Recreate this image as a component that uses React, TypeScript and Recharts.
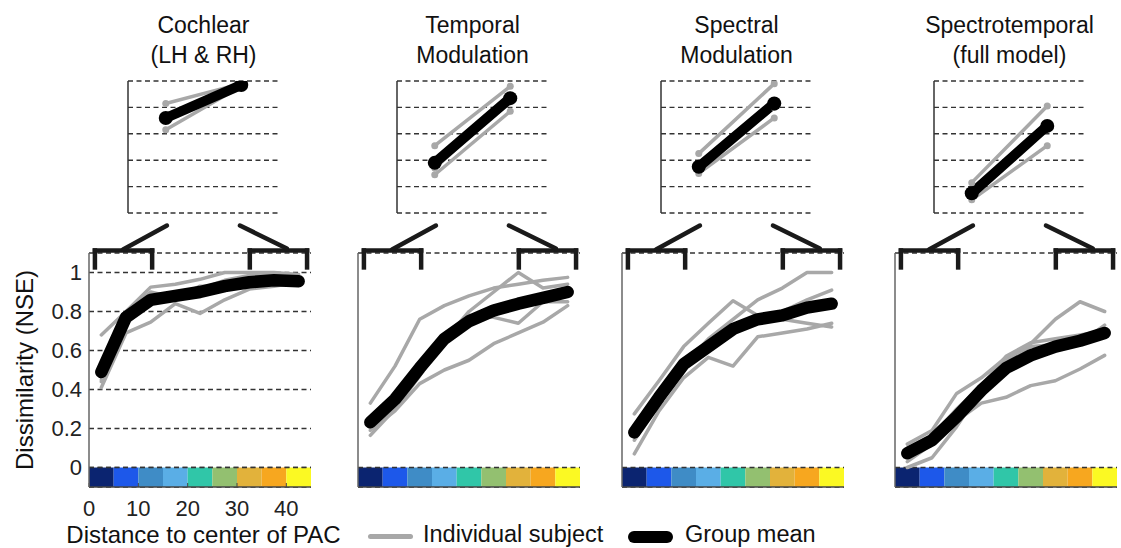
import React from 'react';
import { LineChart, Line, XAxis, YAxis, CartesianGrid, ReferenceArea, ReferenceLine } from 'recharts';

// ---------- data ----------
const BIN_CENTERS = [2.5, 7.5, 12.5, 17.5, 22.5, 27.5, 32.5, 37.5, 42.5];
const BIN_EDGES = [0, 5, 10, 15, 20, 25, 30, 35, 40, 45];
const X_TICKS = [0, 10, 20, 30, 40];
const Y_TICKS = [0, 0.2, 0.4, 0.6, 0.8, 1];
const TOP_Y_TICKS = [0, 0.2, 0.4, 0.6, 0.8, 1];
const TOP_POSITIONS = [1, 3];

const TITLES = [
  ['Cochlear', '(LH & RH)'],
  ['Temporal', 'Modulation'],
  ['Spectral', 'Modulation'],
  ['Spectrotemporal', '(full model)'],
];
const X_LABEL = 'Distance to center of PAC';
const Y_LABEL = 'Dissimilarity (NSE)';
const LEGEND_SUBJECT = 'Individual subject';
const LEGEND_MEAN = 'Group mean';

// Cochlear
const COCHLEAR_MEAN = [0.49, 0.77, 0.86, 0.88, 0.9, 0.93, 0.95, 0.96, 0.955];
const COCHLEAR_S1 = [0.68, 0.8, 0.925, 0.94, 0.965, 1.0, 1.0, 1.0, 0.99];
const COCHLEAR_S2 = [0.41, 0.69, 0.745, 0.84, 0.79, 0.86, 0.915, 0.93, 0.95];
const COCHLEAR_S3 = [0.44, 0.79, 0.88, 0.895, 0.915, 0.96, 0.985, 0.99, 0.97];
const COCHLEAR_S4 = [0.45, 0.8, 0.9, 0.87, 0.93, 0.93, 0.95, 0.95, 0.94];
const COCHLEAR_TOP_MEAN = [0.72, 0.97];
const COCHLEAR_TOP_S = [[0.83, 0.98], [0.63, 0.96], [0.7, 0.97], [0.72, 0.96]];

// Temporal modulation
const TEMPORAL_MEAN = [0.232, 0.35, 0.51, 0.66, 0.75, 0.805, 0.84, 0.87, 0.9];
const TEMPORAL_S1 = [0.33, 0.52, 0.76, 0.83, 0.88, 0.92, 0.94, 0.96, 0.975];
const TEMPORAL_S2 = [0.165, 0.3, 0.47, 0.65, 0.8, 0.9, 1.0, 0.92, 0.94];
const TEMPORAL_S3 = [0.2, 0.33, 0.5, 0.68, 0.78, 0.77, 0.74, 0.85, 0.85];
const TEMPORAL_S4 = [0.19, 0.29, 0.43, 0.5, 0.55, 0.635, 0.69, 0.745, 0.83];
const TEMPORAL_TOP_MEAN = [0.38, 0.87];
const TEMPORAL_TOP_S = [[0.51, 0.96], [0.29, 0.77], [0.36, 0.88], [0.34, 0.86]];

// Spectral modulation
const SPECTRAL_MEAN = [0.18, 0.36, 0.53, 0.62, 0.71, 0.76, 0.78, 0.82, 0.84];
const SPECTRAL_S1 = [0.275, 0.445, 0.62, 0.74, 0.855, 0.78, 0.76, 0.74, 0.72];
const SPECTRAL_S2 = [0.14, 0.33, 0.52, 0.66, 0.76, 0.86, 0.92, 1.0, 1.0];
const SPECTRAL_S3 = [0.07, 0.29, 0.46, 0.565, 0.52, 0.67, 0.69, 0.71, 0.74];
const SPECTRAL_S4 = [0.2, 0.37, 0.54, 0.63, 0.73, 0.77, 0.8, 0.86, 0.91];
const SPECTRAL_TOP_MEAN = [0.35, 0.83];
const SPECTRAL_TOP_S = [[0.45, 0.98], [0.3, 0.72], [0.33, 0.8], [0.34, 0.84]];

// Spectrotemporal (full model)
const SPECTROTEMPORAL_MEAN = [0.073, 0.14, 0.26, 0.395, 0.51, 0.575, 0.62, 0.65, 0.69];
const SPECTROTEMPORAL_S1 = [0.12, 0.19, 0.38, 0.46, 0.565, 0.635, 0.76, 0.85, 0.8];
const SPECTROTEMPORAL_S2 = [0.03, 0.12, 0.24, 0.33, 0.36, 0.42, 0.445, 0.505, 0.575];
const SPECTROTEMPORAL_S3 = [0.0, 0.05, 0.21, 0.4, 0.55, 0.62, 0.63, 0.64, 0.73];
const SPECTROTEMPORAL_S4 = [0.1, 0.16, 0.3, 0.42, 0.57, 0.64, 0.66, 0.68, 0.7];
const SPECTROTEMPORAL_TOP_MEAN = [0.15, 0.66];
const SPECTROTEMPORAL_TOP_S = [[0.23, 0.81], [0.1, 0.51], [0.14, 0.64], [0.15, 0.66]];

const PANELS = [
  { mean: COCHLEAR_MEAN, subjects: [COCHLEAR_S1, COCHLEAR_S2, COCHLEAR_S3, COCHLEAR_S4], topMean: COCHLEAR_TOP_MEAN, topSubjects: COCHLEAR_TOP_S },
  { mean: TEMPORAL_MEAN, subjects: [TEMPORAL_S1, TEMPORAL_S2, TEMPORAL_S3, TEMPORAL_S4], topMean: TEMPORAL_TOP_MEAN, topSubjects: TEMPORAL_TOP_S },
  { mean: SPECTRAL_MEAN, subjects: [SPECTRAL_S1, SPECTRAL_S2, SPECTRAL_S3, SPECTRAL_S4], topMean: SPECTRAL_TOP_MEAN, topSubjects: SPECTRAL_TOP_S },
  { mean: SPECTROTEMPORAL_MEAN, subjects: [SPECTROTEMPORAL_S1, SPECTROTEMPORAL_S2, SPECTROTEMPORAL_S3, SPECTROTEMPORAL_S4], topMean: SPECTROTEMPORAL_TOP_MEAN, topSubjects: SPECTROTEMPORAL_TOP_S },
];

// ---------- styles ----------
const COLORBAR = ['#0b2470', '#1d58ea', '#3f8cc6', '#5aaee6', '#30c6a8', '#93c070', '#e2b23b', '#f7a71f', '#fbf923'];
const FONT = '"Liberation Sans", Arial, Helvetica, sans-serif';
const GRAY = '#a8a8a8';
const GRID = '#333';
const COLUMN_X = [89, 358, 622, 895];
const PLOT_W = 222;

const SUBJECT_KEYS = ['s1', 's2', 's3', 's4'];

function bracketLines(x1: number, x2: number, keyPrefix: string) {
  const yTop = 1.113;
  const yBot = 1.026;
  const common = { stroke: '#1a1a1a', strokeWidth: 4.5, ifOverflow: 'visible' as const, strokeLinecap: 'square' as const };
  return [
    <ReferenceLine key={keyPrefix + 'a'} segment={[{ x: x1, y: yBot }, { x: x1, y: yTop }]} {...common} />,
    <ReferenceLine key={keyPrefix + 'b'} segment={[{ x: x1, y: yTop }, { x: x2, y: yTop }]} {...common} />,
    <ReferenceLine key={keyPrefix + 'c'} segment={[{ x: x2, y: yTop }, { x: x2, y: yBot }]} {...common} />,
  ];
}

function BottomPanel({ index }: { index: number }) {
  const panel = PANELS[index];
  const first = index === 0;
  const W = first ? 81 : 10;
  const X0 = COLUMN_X[index];
  const data = BIN_CENTERS.map((x, i) => ({
    x,
    s1: panel.subjects[0][i],
    s2: panel.subjects[1][i],
    s3: panel.subjects[2][i],
    s4: panel.subjects[3][i],
    mean: panel.mean[i],
  }));
  const diag = { stroke: '#1a1a1a', strokeWidth: 4.5, ifOverflow: 'visible' as const, strokeLinecap: 'round' as const };
  return (
    <div style={{ position: 'absolute', left: X0 - W, top: 212 }}>
      <LineChart width={W + PLOT_W + 6} height={336} data={data} margin={{ top: 41, right: 6, bottom: 0, left: 0 }}>
        <CartesianGrid vertical={false} stroke={GRID} strokeDasharray="5 3.5" strokeWidth={1.4} />
        {COLORBAR.map((c, i) => (
          <ReferenceArea key={'cb' + i} x1={BIN_EDGES[i]} x2={BIN_EDGES[i + 1]} y1={-0.1} y2={0} fill={c} fillOpacity={1} stroke="none" ifOverflow="visible" />
        ))}
        <ReferenceLine y={0} stroke={GRID} strokeDasharray="5 3.5" strokeWidth={1.4} />
        <XAxis
          type="number"
          dataKey="x"
          domain={[0, 45]}
          allowDataOverflow
          ticks={X_TICKS}
          height={61}
          tickSize={-4}
          tickMargin={17}
          tick={first ? { fontSize: 22, fill: '#222', fontFamily: FONT } : false}
          tickLine={{ stroke: '#444', strokeWidth: 1 }}
          axisLine={{ stroke: '#444', strokeWidth: 1.5 }}
        />
        <YAxis
          type="number"
          domain={[-0.1, 1.1]}
          allowDataOverflow
          ticks={Y_TICKS}
          width={W}
          tickSize={0}
          tickMargin={7}
          tickLine={false}
          tick={first ? { fontSize: 22, fill: '#222', fontFamily: FONT } : false}
          axisLine={{ stroke: '#666', strokeWidth: 1.5 }}
          label={first ? { value: Y_LABEL, angle: -90, position: 'insideLeft', offset: 16, fontSize: 24, fill: '#111', fontFamily: FONT, style: { textAnchor: 'middle' } } : undefined}
        />
        {bracketLines(1.2, 12.8, 'l')}
        {bracketLines(32.6, 44.2, 'r')}
        <ReferenceLine segment={[{ x: 6.9, y: 1.118 }, { x: 15.8, y: 1.241 }]} {...diag} />
        <ReferenceLine segment={[{ x: 30.6, y: 1.241 }, { x: 40.1, y: 1.123 }]} {...diag} />
        {SUBJECT_KEYS.map((k) => (
          <Line key={k} type="linear" dataKey={k} stroke={GRAY} strokeWidth={3.5} dot={false} strokeLinecap="round" strokeLinejoin="round" isAnimationActive={false} />
        ))}
        <Line type="linear" dataKey="mean" stroke="#000" strokeWidth={12.5} dot={false} strokeLinecap="round" strokeLinejoin="round" isAnimationActive={false} />
      </LineChart>
    </div>
  );
}

function TopPanel({ index }: { index: number }) {
  const panel = PANELS[index];
  const X0 = COLUMN_X[index] + 39;
  const data = TOP_POSITIONS.map((x, i) => ({
    x,
    s1: panel.topSubjects[0][i],
    s2: panel.topSubjects[1][i],
    s3: panel.topSubjects[2][i],
    s4: panel.topSubjects[3][i],
    mean: panel.topMean[i],
  }));
  return (
    <div style={{ position: 'absolute', left: X0 - 10, top: 70 }}>
      <LineChart width={171} height={153} data={data} margin={{ top: 11, right: 10, bottom: 10, left: 0 }}>
        <XAxis type="number" dataKey="x" domain={[0, 4]} allowDataOverflow hide />
        <YAxis type="number" domain={[0, 1]} allowDataOverflow ticks={TOP_Y_TICKS} width={10} tick={false} tickLine={false} axisLine={{ stroke: '#333', strokeWidth: 1.5 }} />
        {TOP_Y_TICKS.map((t) => (
          <ReferenceLine key={'g' + t} y={t} stroke={GRID} strokeDasharray="5 3.5" strokeWidth={1.4} />
        ))}
        {SUBJECT_KEYS.map((k) => (
          <Line key={k} type="linear" dataKey={k} stroke={GRAY} strokeWidth={3.5} dot={{ r: 3.5, fill: GRAY, stroke: 'none' }} strokeLinecap="round" isAnimationActive={false} />
        ))}
        <Line type="linear" dataKey="mean" stroke="#000" strokeWidth={10} dot={{ r: 7, fill: '#000', stroke: 'none' }} strokeLinecap="round" isAnimationActive={false} />
      </LineChart>
    </div>
  );
}

export default function App() {
  return (
    <div style={{ position: 'fixed', left: 0, top: 0, width: 1121, height: 548, background: '#fff', fontFamily: FONT, overflow: 'hidden' }}>
      {TITLES.map((t, i) => (
        <div
          key={'t' + i}
          style={{ position: 'absolute', left: COLUMN_X[i] + 39 + 75.5 - 110, top: 10, width: 220, textAlign: 'center', fontSize: 23, lineHeight: '30px', color: '#111' }}
        >
          {t[0]}
          <br />
          {t[1]}
        </div>
      ))}
      {PANELS.map((_, i) => (
        <TopPanel key={'top' + i} index={i} />
      ))}
      {PANELS.map((_, i) => (
        <BottomPanel key={'bot' + i} index={i} />
      ))}
      {/* x-axis label */}
      <div style={{ position: 'absolute', left: 203.5 - 200, top: 522, width: 400, textAlign: 'center', fontSize: 24, lineHeight: '26px', color: '#111', whiteSpace: 'nowrap' }}>{X_LABEL}</div>
      {/* legend */}
      <div style={{ position: 'absolute', left: 368, top: 534, width: 45, height: 5, borderRadius: 3, background: GRAY }} />
      <div style={{ position: 'absolute', left: 423, top: 521, fontSize: 23.5, lineHeight: '26px', color: '#111', whiteSpace: 'nowrap' }}>{LEGEND_SUBJECT}</div>
      <div style={{ position: 'absolute', left: 628, top: 531, width: 45, height: 12, borderRadius: 6, background: '#000' }} />
      <div style={{ position: 'absolute', left: 685, top: 521, fontSize: 23.5, lineHeight: '26px', color: '#111', whiteSpace: 'nowrap' }}>{LEGEND_MEAN}</div>
    </div>
  );
}
